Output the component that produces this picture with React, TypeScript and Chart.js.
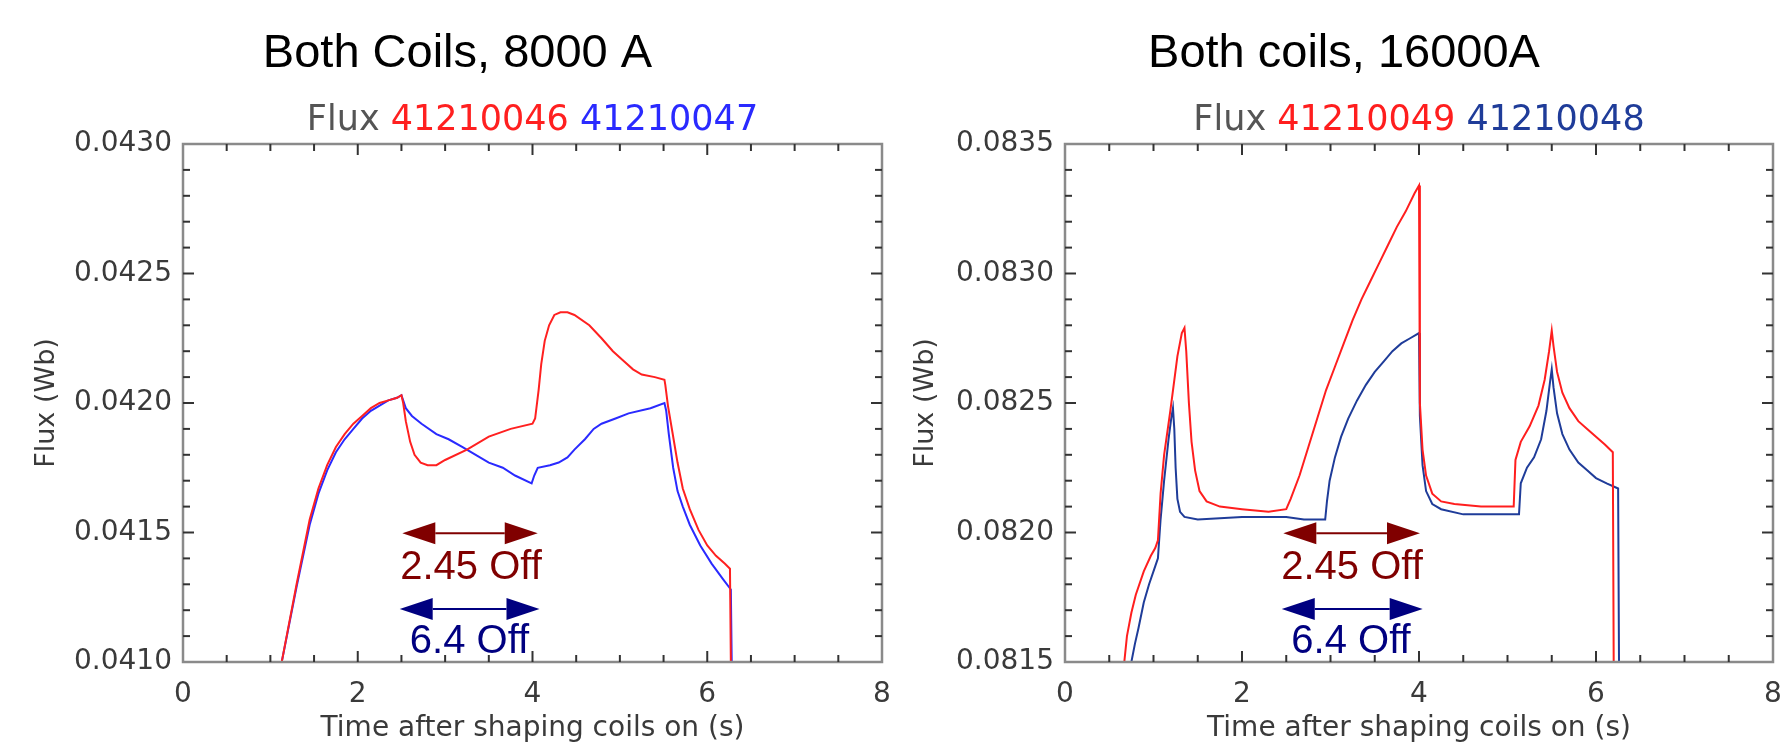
import React, { useEffect, useRef } from 'react';
import { Chart, registerables } from 'chart.js';

Chart.register(...registerables);

// ---------- Data ----------
// Left panel: Both Coils, 8000 A
const T_46 = [1.13, 1.3, 1.45, 1.55, 1.65, 1.75, 1.85, 1.95, 2.05, 2.15, 2.25, 2.35, 2.45, 2.5, 2.52, 2.55, 2.6, 2.65, 2.72, 2.8, 2.9, 3.0, 3.25, 3.5, 3.75, 4.0, 4.03, 4.07, 4.1, 4.14, 4.19, 4.25, 4.32, 4.4, 4.48, 4.65, 4.79, 4.92, 5.05, 5.15, 5.25, 5.4, 5.51, 5.52, 5.55, 5.6, 5.66, 5.72, 5.8, 5.9, 6.0, 6.1, 6.2, 6.26, 6.27];
const FLUX_46 = [0.0410, 0.0413, 0.04155, 0.04167, 0.04176, 0.04183, 0.04188, 0.04192, 0.04195, 0.04198, 0.042, 0.04201, 0.04202, 0.04203, 0.042, 0.04193, 0.04185, 0.0418, 0.04177, 0.04176, 0.04176, 0.04178, 0.04182, 0.04187, 0.0419, 0.04192, 0.04194, 0.04205, 0.04215, 0.04224, 0.0423, 0.04234, 0.04235, 0.04235, 0.04234, 0.0423, 0.04225, 0.0422, 0.04216, 0.04213, 0.04211, 0.0421, 0.04209, 0.04207, 0.04199, 0.04189, 0.04177, 0.04167, 0.04159, 0.04151, 0.04145, 0.04141, 0.04138, 0.04136, 0.0410];

const T_47 = [1.13, 1.3, 1.45, 1.55, 1.65, 1.75, 1.85, 1.95, 2.05, 2.15, 2.25, 2.35, 2.45, 2.5, 2.55, 2.62, 2.73, 2.9, 3.04, 3.2, 3.35, 3.5, 3.66, 3.8, 3.99, 4.02, 4.06, 4.2, 4.3, 4.4, 4.48, 4.6, 4.7, 4.79, 4.95, 5.1, 5.35, 5.51, 5.53, 5.56, 5.61, 5.66, 5.72, 5.8, 5.92, 6.05, 6.18, 6.27, 6.28];
const FLUX_47 = [0.0410, 0.04129, 0.04153, 0.04165, 0.04174, 0.04181, 0.04186, 0.0419, 0.04194, 0.04197, 0.04199, 0.04201, 0.04202, 0.04203, 0.04198, 0.04195, 0.04192, 0.04188, 0.04186, 0.04183, 0.0418, 0.04177, 0.04175, 0.04172, 0.04169, 0.04172, 0.04175, 0.04176, 0.04177, 0.04179, 0.04182, 0.04186, 0.0419, 0.04192, 0.04194, 0.04196, 0.04198, 0.042, 0.04197, 0.04188, 0.04175, 0.04166, 0.0416, 0.04153, 0.04145, 0.04138, 0.04132, 0.04128, 0.0410];

// Right panel: Both coils, 16000A
const T_49 = [0.67, 0.7, 0.75, 0.8, 0.89, 0.97, 1.02, 1.05, 1.08, 1.12, 1.19, 1.27, 1.32, 1.35, 1.37, 1.4, 1.43, 1.47, 1.52, 1.6, 1.75, 2.0, 2.3, 2.5, 2.55, 2.65, 2.75, 2.85, 2.95, 3.05, 3.15, 3.25, 3.35, 3.45, 3.55, 3.65, 3.75, 3.85, 3.95, 4.0, 4.01, 4.04, 4.08, 4.15, 4.25, 4.4, 4.7, 5.07, 5.09, 5.15, 5.25, 5.35, 5.42, 5.47, 5.5, 5.52, 5.56, 5.62, 5.7, 5.8, 5.9, 6.0, 6.1, 6.19, 6.2];
const FLUX_49 = [0.0815, 0.0816, 0.08169, 0.08176, 0.08185, 0.08191, 0.08194, 0.08197, 0.08215, 0.0823, 0.08247, 0.08268, 0.08277, 0.08279, 0.0827, 0.0825, 0.08235, 0.08224, 0.08216, 0.08212, 0.0821, 0.08209, 0.08208, 0.08209, 0.08213, 0.08222, 0.08233, 0.08244, 0.08255, 0.08264, 0.08273, 0.08282, 0.0829, 0.08297, 0.08304, 0.08311, 0.08318, 0.08324, 0.08331, 0.08334, 0.0825, 0.08232, 0.08222, 0.08215, 0.08212, 0.08211, 0.0821, 0.0821, 0.08228, 0.08235, 0.08241, 0.08249, 0.08259, 0.0827, 0.08278, 0.08272, 0.08262, 0.08254, 0.08248, 0.08243, 0.0824, 0.08237, 0.08234, 0.08231, 0.0815];

const T_48 = [0.75, 0.79, 0.83, 0.89, 0.95, 1.02, 1.05, 1.08, 1.12, 1.17, 1.2, 1.22, 1.235, 1.25, 1.27, 1.3, 1.35, 1.5, 2.0, 2.5, 2.7, 2.94, 2.96, 2.99, 3.05, 3.12, 3.2, 3.3, 3.4, 3.5, 3.6, 3.7, 3.8, 3.9, 4.0, 4.01, 4.04, 4.08, 4.15, 4.25, 4.5, 5.0, 5.13, 5.15, 5.22, 5.3, 5.38, 5.44, 5.48, 5.5, 5.52, 5.56, 5.62, 5.7, 5.8, 5.9, 6.0, 6.12, 6.25, 6.26];
const FLUX_48 = [0.0815, 0.08157, 0.08163, 0.08173, 0.0818, 0.08187, 0.0819, 0.08205, 0.0822, 0.08236, 0.08244, 0.08248, 0.0824, 0.08225, 0.08213, 0.08208, 0.08206, 0.08205, 0.08206, 0.08206, 0.08205, 0.08205, 0.08212, 0.0822, 0.08229, 0.08237, 0.08244, 0.08251, 0.08257, 0.08262, 0.08266, 0.0827, 0.08273, 0.08275, 0.08277, 0.08245, 0.08226, 0.08216, 0.08211, 0.08209, 0.08207, 0.08207, 0.08207, 0.08219, 0.08225, 0.08229, 0.08236, 0.08247, 0.08258, 0.08263, 0.08256, 0.08246, 0.08238, 0.08232, 0.08227, 0.08224, 0.08221, 0.08219, 0.08217, 0.0815];

// Tick values / labels
const X_TICKS = [0, 2, 4, 6, 8];
const Y_TICKS_LEFT = [0.0410, 0.0415, 0.0420, 0.0425, 0.0430];
const Y_TICKS_RIGHT = [0.0815, 0.0820, 0.0825, 0.0830, 0.0835];

// Annotations (data coordinates)
const ANN_LEFT = [
  { label: '2.45 Off', color: '#800000', x1: 2.51, x2: 4.06, y: 0.041497, tx: 3.296, ty: 0.0413205 },
  { label: '6.4 Off', color: '#000080', x1: 2.48, x2: 4.08, y: 0.041205, tx: 3.279, ty: 0.0410347 },
];
const ANN_RIGHT = [
  { label: '2.45 Off', color: '#800000', x1: 2.467, x2: 4.011, y: 0.081997, tx: 3.243, ty: 0.0818205 },
  { label: '6.4 Off', color: '#000080', x1: 2.449, x2: 4.042, y: 0.081705, tx: 3.232, ty: 0.0815347 },
];

const TEXT_COLOR = '#3a3a3a';
const TICK_FONT = { family: '"DejaVu Sans", sans-serif', size: 28 };
const SANS = '"Liberation Sans", Arial, Helvetica, sans-serif';

const pts = (t: number[], f: number[]) => t.map((x, i) => ({ x, y: f[i] }));

const idlPlugin = {
  id: 'idl',
  afterDraw(chart: any, _args: any, opts: any) {
    const { ctx, chartArea: a, scales } = chart;
    const xs = scales.x;
    const ys = scales.y;
    ctx.save();
    // frame
    ctx.strokeStyle = '#8a8a8a';
    ctx.lineWidth = 2.5;
    ctx.strokeRect(a.left, a.top, a.right - a.left, a.bottom - a.top);
    // inward ticks
    ctx.strokeStyle = '#333';
    ctx.lineWidth = 2;
    const seg = (x1: number, y1: number, x2: number, y2: number) => {
      ctx.beginPath();
      ctx.moveTo(x1, y1);
      ctx.lineTo(x2, y2);
      ctx.stroke();
    };
    const nx = Math.round((xs.max - xs.min) / opts.xMinor);
    for (let i = 1; i < nx; i++) {
      const px = xs.getPixelForValue(xs.min + i * opts.xMinor);
      const len = i % opts.xMajorEvery === 0 ? 11 : 7;
      seg(px, a.bottom, px, a.bottom - len);
      seg(px, a.top, px, a.top + len);
    }
    const ny = Math.round((ys.max - ys.min) / opts.yMinor);
    for (let i = 1; i < ny; i++) {
      const py = ys.getPixelForValue(ys.min + i * opts.yMinor);
      const len = i % opts.yMajorEvery === 0 ? 11 : 7;
      seg(a.left, py, a.left + len, py);
      seg(a.right, py, a.right - len, py);
    }
    // annotations
    for (const an of opts.annotations) {
      const y = ys.getPixelForValue(an.y);
      const x1 = xs.getPixelForValue(an.x1);
      const x2 = xs.getPixelForValue(an.x2);
      const hl = 33;
      const hh = 11;
      ctx.strokeStyle = an.color;
      ctx.fillStyle = an.color;
      ctx.lineWidth = 2;
      seg(x1 + hl, y, x2 - hl, y);
      ctx.beginPath();
      ctx.moveTo(x1, y);
      ctx.lineTo(x1 + hl, y - hh);
      ctx.lineTo(x1 + hl, y + hh);
      ctx.closePath();
      ctx.fill();
      ctx.beginPath();
      ctx.moveTo(x2, y);
      ctx.lineTo(x2 - hl, y - hh);
      ctx.lineTo(x2 - hl, y + hh);
      ctx.closePath();
      ctx.fill();
      ctx.font = `40px ${SANS}`;
      ctx.textAlign = 'center';
      ctx.textBaseline = 'alphabetic';
      ctx.fillText(an.label, xs.getPixelForValue(an.tx), ys.getPixelForValue(an.ty));
    }
    // titles
    const cx = (a.left + a.right) / 2;
    ctx.fillStyle = '#000';
    ctx.font = `47px ${SANS}`;
    ctx.textAlign = 'center';
    ctx.textBaseline = 'alphabetic';
    ctx.fillText(opts.title, cx + opts.titleShift, 67);
    ctx.font = '35px "DejaVu Sans", sans-serif';
    ctx.textAlign = 'left';
    const widths = opts.subtitle.map((p: any) => ctx.measureText(p.text).width);
    const total = widths.reduce((s: number, w: number) => s + w, 0);
    let x = cx - total / 2;
    opts.subtitle.forEach((p: any, i: number) => {
      ctx.fillStyle = p.color;
      ctx.fillText(p.text, x, 130);
      x += widths[i];
    });
    ctx.restore();
  },
};

function makeConfig(p: any) {
  return {
    type: 'line',
    data: {
      datasets: [
        { data: pts(p.t1, p.f1), borderColor: p.c1, borderWidth: 2, pointRadius: 0, tension: 0, fill: false },
        { data: pts(p.t2, p.f2), borderColor: p.c2, borderWidth: 2, pointRadius: 0, tension: 0, fill: false },
      ],
    },
    options: {
      animation: false,
      responsive: false,
      devicePixelRatio: 1,
      layout: { padding: { left: 0, top: 144, right: p.padRight, bottom: 0 } },
      plugins: {
        legend: { display: false },
        tooltip: { enabled: false },
        title: { display: false },
        idl: {
          title: p.title,
          titleShift: -75,
          subtitle: p.subtitle,
          annotations: p.annotations,
          xMinor: 0.5,
          xMajorEvery: 4,
          yMinor: 0.0001,
          yMajorEvery: 5,
        },
      },
      scales: {
        x: {
          type: 'linear',
          min: 0,
          max: 8,
          afterBuildTicks: (s: any) => { s.ticks = X_TICKS.map((v) => ({ value: v })); },
          afterFit: (s: any) => { s.height = 85; s.paddingLeft = 0; s.paddingRight = 0; },
          grid: { display: false, drawTicks: false },
          border: { display: false },
          ticks: { font: TICK_FONT, color: TEXT_COLOR, padding: 16, maxRotation: 0, autoSkip: false, callback: (v: any) => String(v) },
          title: { display: true, text: 'Time after shaping coils on (s)', font: TICK_FONT, color: TEXT_COLOR, padding: { top: 0, bottom: 1 } },
        },
        y: {
          type: 'linear',
          min: p.yMin,
          max: p.yMax,
          afterBuildTicks: (s: any) => { s.ticks = p.yTicks.map((v: number) => ({ value: v })); },
          afterFit: (s: any) => { s.width = p.yWidth; s.paddingTop = 0; s.paddingBottom = 0; },
          grid: { display: false, drawTicks: false },
          border: { display: false },
          ticks: { font: TICK_FONT, color: TEXT_COLOR, padding: 11, autoSkip: false, callback: (v: any) => Number(v).toFixed(4) },
          title: { display: true, text: 'Flux (Wb)', font: { family: '"DejaVu Sans", sans-serif', size: 27 }, color: TEXT_COLOR, padding: { top: p.yTitlePad, bottom: 0 } },
        },
      },
    },
    plugins: [idlPlugin],
  };
}

function Panel(props: { cfg: any }) {
  const ref = useRef<HTMLCanvasElement | null>(null);
  useEffect(() => {
    if (!ref.current) return;
    const chart = new Chart(ref.current, makeConfig(props.cfg) as any);
    return () => chart.destroy();
  }, []);
  return <canvas ref={ref} width={892} height={747} style={{ display: 'block', width: 892, height: 747 }} />;
}

const LEFT = {
  t1: T_46, f1: FLUX_46, c1: '#ff2020',
  t2: T_47, f2: FLUX_47, c2: '#2a2aff',
  yMin: 0.0410, yMax: 0.0430, yTicks: Y_TICKS_LEFT,
  yWidth: 183, padRight: 10, yTitlePad: 31,
  title: 'Both Coils, 8000 A',
  subtitle: [
    { text: 'Flux ', color: '#555555' },
    { text: '41210046 ', color: '#ff2020' },
    { text: '41210047', color: '#2a2aff' },
  ],
  annotations: ANN_LEFT,
};

const RIGHT = {
  t1: T_49, f1: FLUX_49, c1: '#ff1e1e',
  t2: T_48, f2: FLUX_48, c2: '#1f3c99',
  yMin: 0.0815, yMax: 0.0835, yTicks: Y_TICKS_RIGHT,
  yWidth: 173, padRight: 11, yTitlePad: 18,
  title: 'Both coils, 16000A',
  subtitle: [
    { text: 'Flux ', color: '#555555' },
    { text: '41210049 ', color: '#ff1e1e' },
    { text: '41210048', color: '#1f3c99' },
  ],
  annotations: ANN_RIGHT,
};

export default function App() {
  return (
    <div style={{ position: 'absolute', left: 0, top: 0, width: 1784, height: 747, display: 'flex', background: '#ffffff' }}>
      <Panel cfg={LEFT} />
      <Panel cfg={RIGHT} />
    </div>
  );
}
